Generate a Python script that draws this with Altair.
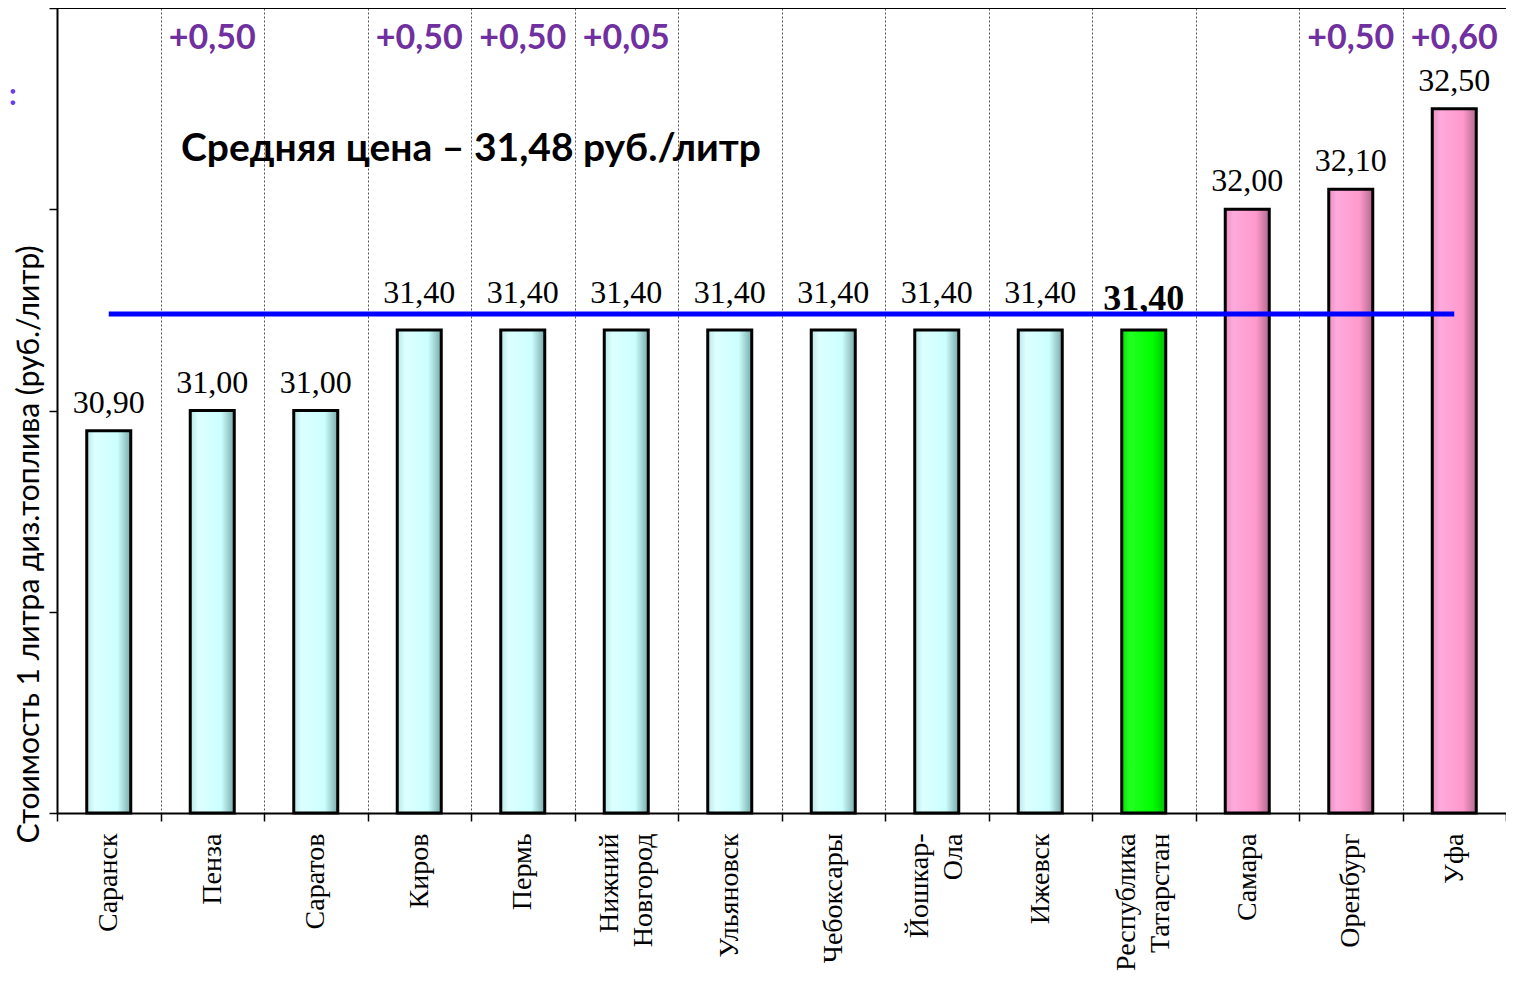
import altair as alt
import pandas as pd

cities = ["Саранск", "Пенза", "Саратов", "Киров", "Пермь", "Нижний|Новгород",
          "Ульяновск", "Чебоксары", "Йошкар-|Ола", "Ижевск", "Республика|Татарстан",
          "Самара", "Оренбург", "Уфа"]
prices = [30.90, 31.00, 31.00, 31.40, 31.40, 31.40, 31.40, 31.40, 31.40, 31.40,
          31.40, 32.00, 32.10, 32.50]
changes = ["", "+0,50", "", "+0,50", "+0,50", "+0,05", "", "", "", "", "", "",
           "+0,50", "+0,60"]
groups = ["region"] * 10 + ["tatarstan"] + ["higher"] * 3
avg_price = 31.48
avg_text = "Средняя цена – 31,48 руб./литр"
y_title = "Стоимость 1 литра диз.топлива  (руб./литр)"

df = pd.DataFrame({
    "city": cities,
    "price": prices,
    "change": changes,
    "group": groups,
    "label": [f"{p:.2f}".replace(".", ",") for p in prices],
})

W, H = 1449, 805

x_enc = alt.X(
    "city:N", sort=cities, title=None,
    scale=alt.Scale(paddingInner=0, paddingOuter=0),
    axis=alt.Axis(
        labelAngle=-90, labelAlign="right", labelBaseline="middle",
        labelFont="Liberation Serif", labelFontSize=28, labelColor="black",
        labelExpr="split(datum.label, '|')", labelLineHeight=34,
        labelOffset={"condition": {"test": "indexof(datum.label, '|') >= 0", "value": -17}, "value": 0},
        labelPadding=12, labelOverlap=False, labelBound=False, labelFlush=False,
        tickBand="extent", tickColor="black", tickSize=8, tickWidth=1.5,
        domainColor="black", domainWidth=2,
        grid=True, gridDash=[2, 2], gridColor="#555555", gridWidth=1,
    ),
)
y_scale = alt.Scale(domain=[29, 33], nice=False, zero=False)
y_enc = alt.Y(
    "price:Q", scale=y_scale, title=y_title,
    axis=alt.Axis(
        values=[29, 30, 31, 32, 33], labels=False, grid=False,
        tickColor="black", tickSize=8, tickWidth=1.5,
        domainColor="black", domainWidth=2,
        titleFont="Lato", titleFontSize=30, titleFontWeight="normal",
        titleColor="black", titleAngle=270, titleAlign="center",
        titleBaseline="middle", titleX=-28, titleY=536,
    ),
)

base = alt.Chart(df)


def grad(c_edge, c_light, c_main, c_dark):
    return alt.LinearGradient(
        gradient="linear", x1=0, y1=0, x2=1, y2=0,
        stops=[
            alt.GradientStop(offset=0, color=c_edge),
            alt.GradientStop(offset=0.18, color=c_light),
            alt.GradientStop(offset=0.7, color=c_main),
            alt.GradientStop(offset=1, color=c_dark),
        ],
    )


bar_styles = {
    "region": grad("#B8E6E6", "#DDFFFF", "#CCFFFF", "#7AAAAA"),
    "tatarstan": grad("#00E000", "#22FF22", "#00FF00", "#00C000"),
    "higher": grad("#E890C0", "#FFAADD", "#FF99CC", "#B06A8E"),
}

layers = []
for g, fill in bar_styles.items():
    layers.append(
        base.transform_filter(alt.datum.group == g)
        .mark_bar(width=44, fill=fill, stroke="black", strokeWidth=3)
        .encode(x=x_enc, y=y_enc, y2=alt.Y2(datum=29))
    )

xs = alt.X("city:N", sort=cities)
ys = alt.Y("price:Q", scale=y_scale)

value_labels = base.transform_filter(
    (alt.datum.group != "tatarstan") & (alt.datum.price != 31.4)
).mark_text(
    font="Liberation Serif", fontSize=32, color="black", baseline="bottom", dy=-11
).encode(x=xs, y=ys, text="label:N")

mid_labels = base.transform_filter(
    (alt.datum.group == "region") & (alt.datum.price == 31.4)
).mark_text(
    font="Liberation Serif", fontSize=32, color="black", baseline="bottom", dy=-20
).encode(x=xs, y=ys, text="label:N")

bold_label = base.transform_filter(alt.datum.group == "tatarstan").mark_text(
    font="Liberation Serif", fontSize=36, fontWeight="bold", color="black",
    baseline="bottom", dy=-12
).encode(x=xs, y=ys, text="label:N")

change_labels = base.mark_text(
    font="Lato", fontSize=34, fontWeight="bold", color="#7030A0", baseline="middle"
).encode(x=xs, y=alt.value(31), text="change:N")

avg_line = base.mark_line(color="#0000FF", strokeWidth=5).encode(
    x=xs, y=alt.Y(datum=avg_price, scale=y_scale)
)

avg_annot = alt.Chart(pd.DataFrame({"t": [avg_text]})).mark_text(
    font="Lato", fontSize=39, fontWeight="bold", color="black",
    align="center", baseline="middle"
).encode(
    x=alt.X(datum="Киров", bandPosition=1),
    y=alt.Y(datum=32.3, scale=y_scale),
    text="t:N",
)

top_rule = alt.Chart(pd.DataFrame({"v": [33]})).mark_rule(
    color="black", strokeWidth=2
).encode(y=alt.Y("v:Q", scale=y_scale))

colon = alt.Chart(pd.DataFrame({"t": [":"]})).mark_text(
    font="Lato", fontSize=30, fontWeight="bold", color="#6A3CF0",
    align="left", baseline="middle"
).encode(x=alt.value(-48), y=alt.value(88), text="t:N")

chart = alt.layer(
    *layers, value_labels, mid_labels, bold_label, change_labels, avg_line,
    avg_annot, top_rule, colon
).properties(
    width=W, height=H,
    autosize=alt.AutoSizeParams(type="none"),
    padding={"left": 49, "top": 0, "right": 0, "bottom": 162},
    background="white",
).configure_view(stroke=None)

chart.save("out.html", embed_options={"renderer": "svg", "actions": False})
